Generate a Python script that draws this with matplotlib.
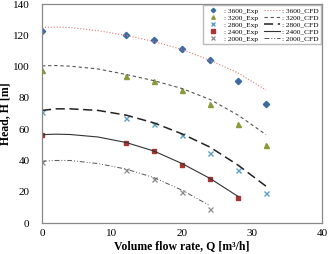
import matplotlib
matplotlib.use('Agg')
import matplotlib.pyplot as plt

plt.rcParams['font.family'] = ['Liberation Serif', 'DejaVu Serif']

# experimental points
q_exp = [0, 12, 16, 20, 24, 28, 32]
h3600_exp = [123, 120, 117, 111, 104, 91, 76]
h3200_exp = [98, 94, 91, 85, 76, 63, 50]
h2800_exp = [71, 67, 63, 56, 45, 34, 19.5]
q2400_exp = [0, 12, 16, 20, 24, 28]
h2400_exp = [56, 51, 46, 37, 28, 16]
q2000_exp = [0, 12, 16, 20, 24]
h2000_exp = [39, 34, 28, 20, 9]

# CFD curves
q_cfd = [0, 2, 4, 8, 12, 16, 20, 24, 28, 32]
h3600_cfd = [125, 125.3, 125, 123, 120, 116, 111, 104, 96, 85]
h3200_cfd = [100.5, 100.7, 100.3, 98.5, 95, 91, 86, 79, 69, 56.5]
h2800_cfd = [72, 73, 73, 72, 69, 64, 57, 48.5, 37, 23.5]
q2400_cfd = [0, 2, 4, 8, 12, 16, 20, 24, 28]
h2400_cfd = [56.5, 56.8, 56.6, 55, 51.5, 46, 38, 28.5, 17]
q2000_cfd = [0, 2, 4, 8, 12, 16, 20, 24]
h2000_cfd = [39.5, 40, 40, 38, 34.5, 29, 21, 11]

fig = plt.figure(figsize=(3.28, 2.54), dpi=100)
ax = fig.add_axes([0.128, 0.122, 0.854, 0.862])

ms = 3.6
ax.plot(q_exp, h3600_exp, 'D', color='#3b6aa6', ms=3.2, ls='none', label=': 3600_Exp')
ax.plot(q_exp, h3200_exp, '^', color='#8c9a3c', ms=ms, ls='none', label=': 3200_Exp')
ax.plot(q_exp, h2800_exp, 'x', color='#5b9fc9', ms=ms, mew=1.0, ls='none', label=': 2800_Exp')
ax.plot(q2400_exp, h2400_exp, 's', color='#a83434', ms=3.4, ls='none', label=': 2400_Exp')
ax.plot(q2000_exp, h2000_exp, 'x', color='#8a8a8a', ms=ms, mew=0.9, ls='none', label=': 2000_Exp')

ax.plot(q_cfd, h3600_cfd, ':', color='#e07a7a', lw=0.8, label=': 3600_CFD')
ax.plot(q_cfd, h3200_cfd, '--', color='#555555', lw=0.8, dashes=(3, 2.5), label=': 3200_CFD')
ax.plot(q_cfd, h2800_cfd, '--', color='#222222', lw=1.1, dashes=(6, 3), label=': 2800_CFD')
ax.plot(q2400_cfd, h2400_cfd, '-', color='#333333', lw=0.8, label=': 2400_CFD')
ax.plot(q2000_cfd, h2000_cfd, '-.', color='#555555', lw=0.7, dashes=(5, 2, 1, 2, 1, 2), label=': 2000_CFD')

ax.set_xlim(0, 40)
ax.set_ylim(0, 140)
ax.set_xticks([0, 10, 20, 30, 40])
ax.set_yticks([0, 20, 40, 60, 80, 100, 120, 140])
ax.tick_params(labelsize=8, length=0)
ax.tick_params(axis='x', pad=4)
ax.tick_params(axis='y', pad=9)
for s in ax.spines.values():
    s.set_color('#888888')
    s.set_linewidth(0.9)

ax.set_xlabel('Volume flow rate, Q [m³/h]', fontsize=8.5, fontweight='bold')
ax.xaxis.set_label_coords(0.5, -0.08)
ax.set_ylabel('Head, H [m]', fontsize=8.5, fontweight='bold', labelpad=1)

ax.legend(ncol=2, loc='upper right', fontsize=5.3, frameon=True, fancybox=False,
          edgecolor='#aaaaaa', handlelength=2.2, handletextpad=0.3, columnspacing=0.8,
          labelspacing=0.12, borderpad=0.35, borderaxespad=0.1, markerscale=0.7)

plt.savefig('out.png', dpi=100)
